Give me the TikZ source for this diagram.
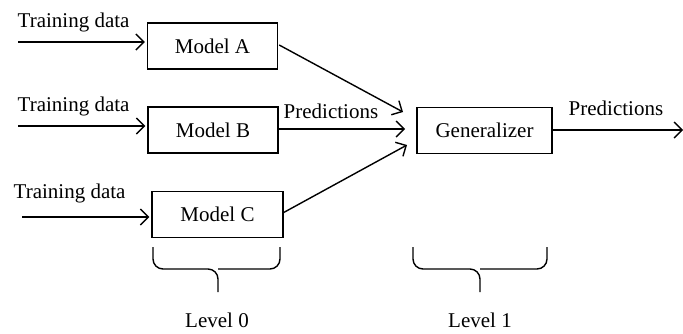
\documentclass[tikz,border=0pt]{standalone}
\usepackage{fontspec}
\setmainfont{Liberation Serif}
\usetikzlibrary{positioning}
\usetikzlibrary{arrows,arrows.meta,shapes}
\usetikzlibrary{calc}

\begin{document}
\begin{tikzpicture}[x=0.5pt, y=-0.5pt,
	font=\fontsize{10.5}{12}\selectfont,
	line width=0.7pt,
	>={Straight Barb[length=4pt,width=8pt]},
	modelbox/.style={draw, rectangle, inner sep=0pt, minimum width=65pt, minimum height=23pt},
	txt/.style={inner sep=0pt, anchor=base west}]

\useasboundingbox (0,0) rectangle (683,333);

% level 0 models
\node[modelbox] (modelA) at (212.5,46) {Model A};
\node[modelbox] (modelB) at (213,130) {Model B};
\node[modelbox, minimum width=65.5pt] (modelC) at (217.5,214.5) {Model C};

% level 1
\node[modelbox, minimum width=67.5pt] (gen) at (484.5,130.5) {Generalizer};

% inputs
\coordinate (inA) at (18,42);
\coordinate (inB) at (18,126);
\coordinate (inC) at (22,217);
\draw[->] (inA) -- ($(inA -| modelA.west)+(-2,0)$);
\draw[->] (inB) -- ($(inB -| modelB.west)+(-2,0)$);
\draw[->] (inC) -- ($(inC -| modelC.west)+(-2,0)$);
\node[txt] (tdA) at (17,27) {Training data};
\node[txt] (tdB) at (17,111) {Training data};
\node[txt] (tdC) at (13,198) {Training data};

% predictions into the generalizer
\coordinate (tipA) at (403,112);
\coordinate (tipB) at (405,129);
\coordinate (tipC) at (407,145);
\draw[->] ($(modelA.east)+(1,-1)$) -- (tipA);
\draw[->] (modelB.east |- tipB) -- (tipB);
\draw[->] ($(modelC.east)+(0,-2)$) -- (tipC);
\node[txt] (predA) at (283,118) {Predictions};

% output
\coordinate (out) at (683,130);
\draw[->] (gen.east |- out) -- (out);
\node[txt] (predB) at (568,115) {Predictions};

% braces
\draw[rounded corners=5pt] (153,247) |- (218,269) -- (218,292);
\draw[rounded corners=5pt] (280,247) |- (218,269);
\draw[rounded corners=5pt] (413,247) |- (480,269) -- (480,292);
\draw[rounded corners=5pt] (547,247) |- (480,269);

% labels
\node (lev0) at (217,320) {Level 0};
\node (lev1) at (480,320) {Level 1};

\end{tikzpicture}
\end{document}
